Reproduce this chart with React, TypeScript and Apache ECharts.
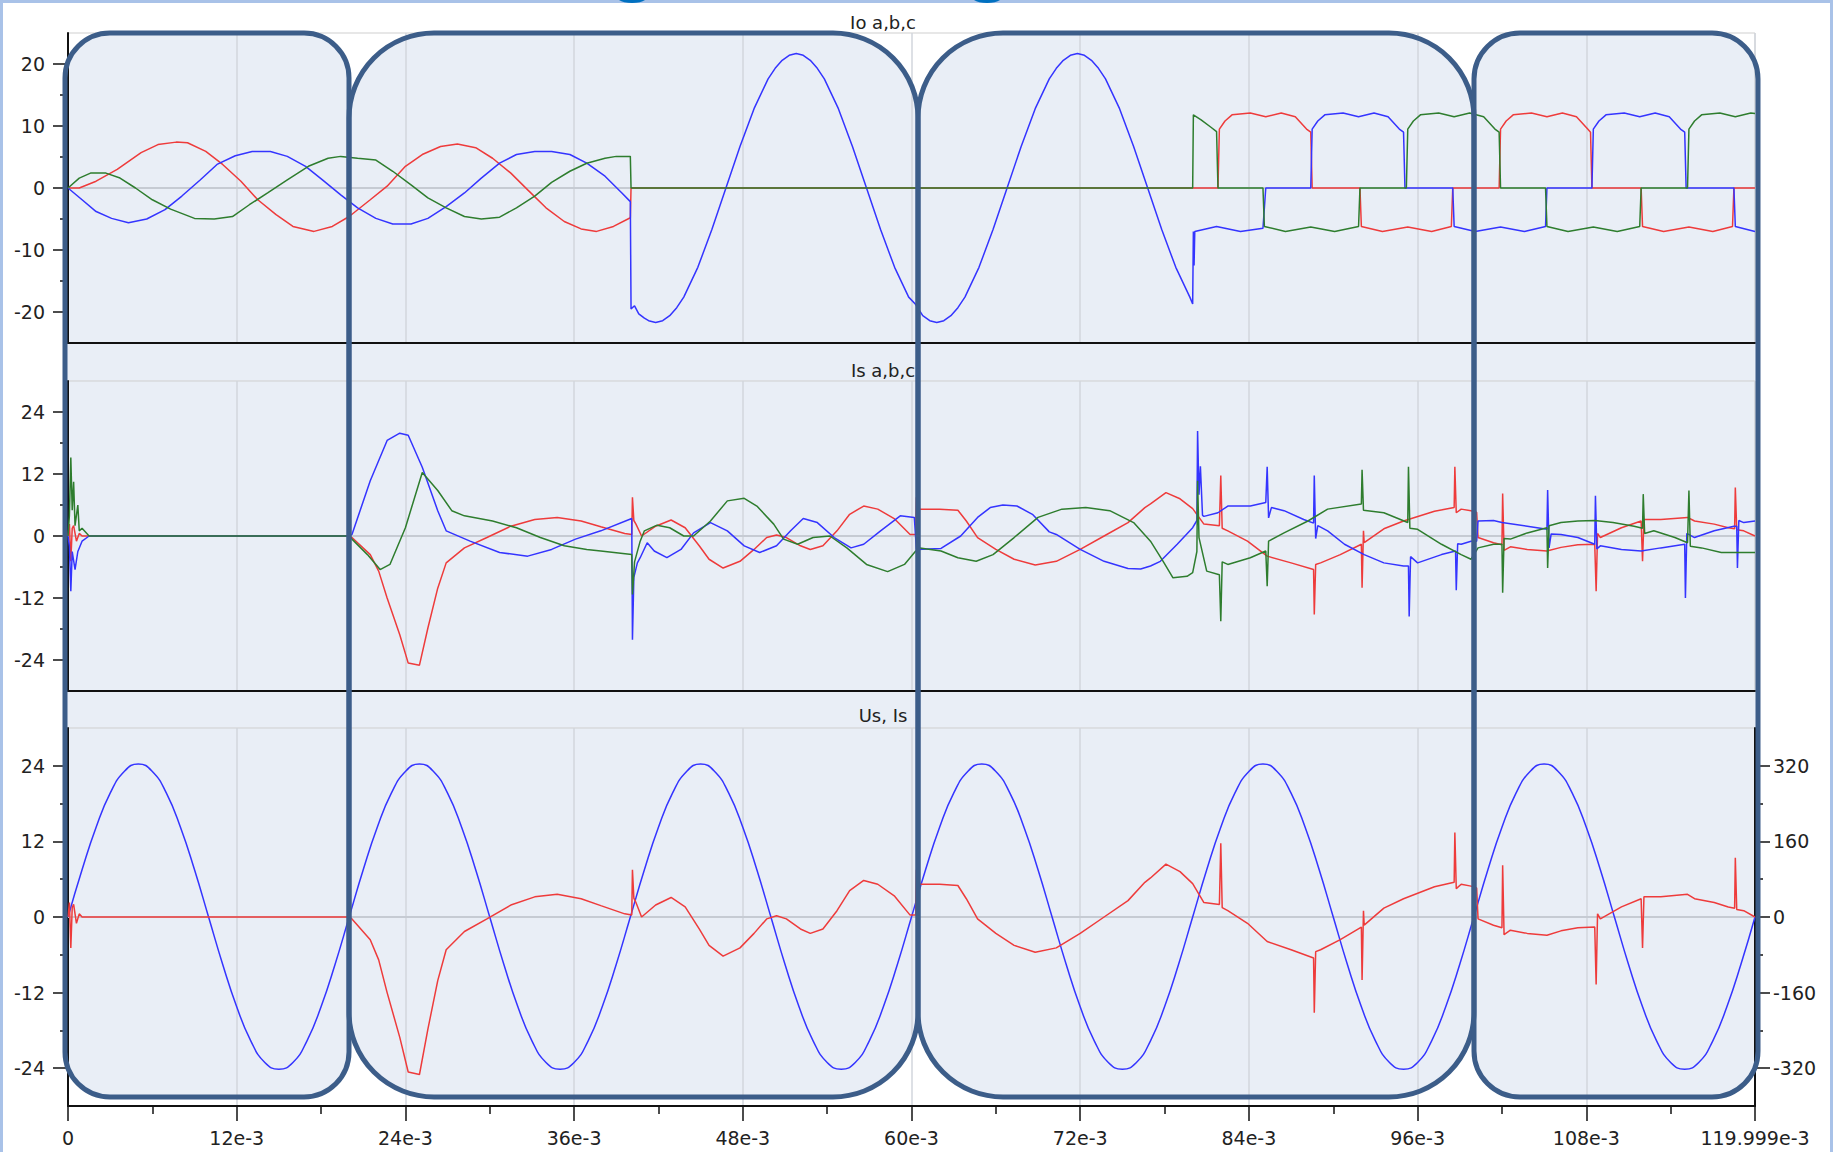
import React, { useEffect, useRef } from "react";
import * as echarts from "echarts";

// ---------- data (time in ms) ----------
const xTickLabels = ["0", "12e-3", "24e-3", "36e-3", "48e-3", "60e-3", "72e-3", "84e-3", "96e-3", "108e-3", "119.999e-3"];
const ioTicks = [-20, -10, 0, 10, 20];
const ioMinor = [-15, -5, 5, 15];
const isTicks = [-24, -12, 0, 12, 24];
const isMinor = [-18, -6, 6, 18];
const usTicks = [-320, -160, 0, 160, 320];
const usMinor = [-240, -80, 80, 240];
const zeroRef = [[0, 0], [120, 0]];

// Io a (red)
const ioA = [[0,0],[0.8,0],[2.0,1.1],[3.5,3.0],[5.2,5.7],[6.4,7.0],[7.7,7.4],[8.5,7.3],[9.8,5.9],[11.0,3.8],[12.3,1.1],[13.5,-1.9],[14.8,-4.3],[16.0,-6.2],[17.5,-7.0],[18.8,-6.2],[20.0,-4.6],[21.5,-1.9],[22.7,0.3],[24.0,3.5],[25.2,5.4],[26.5,6.7],[27.7,7.1],[29.0,6.5],[30.2,4.8],[31.5,2.4],[32.7,-0.3],[34.0,-3.2],[35.3,-5.4],[36.5,-6.6],[37.6,-7.0],[38.8,-6.2],[40.0,-4.8],[40.05,0],[81.8,0],[81.9,9.5],[82.3,10.8],[82.8,11.8],[84.1,12.1],[85.2,11.5],[86.3,12.1],[87.3,11.5],[88.1,9.5],[88.4,9.0],[88.5,0],[91.9,0],[92.0,-6.2],[93.5,-7.0],[95.3,-6.3],[97.0,-7.0],[98.4,-6.2],[98.5,0],[101.8,0],[101.9,9.5],[102.3,10.8],[102.8,11.8],[104.1,12.1],[105.2,11.5],[106.3,12.1],[107.3,11.5],[108.1,9.5],[108.3,9.0],[108.4,0],[111.9,0],[112.0,-6.2],[113.5,-7.0],[115.3,-6.3],[117.0,-7.0],[118.4,-6.2],[118.5,0],[120,0]];
// Io b (blue)
const ioB = [[0,0],[1.0,-1.9],[2.0,-3.8],[3.1,-4.9],[4.3,-5.6],[5.6,-5.0],[6.9,-3.5],[8.1,-1.3],[9.4,1.3],[10.6,3.8],[11.9,5.2],[13.1,5.9],[14.4,5.9],[15.6,5.1],[16.9,3.5],[18.1,1.3],[19.4,-1.1],[20.6,-3.2],[21.9,-4.9],[23.1,-5.8],[24.4,-5.8],[25.6,-4.9],[26.9,-3.0],[28.2,-0.8],[29.4,1.6],[30.7,4.0],[31.9,5.4],[33.2,5.9],[34.4,5.9],[35.7,5.4],[36.9,4.0],[38.2,1.9],[39.4,-0.8],[40.0,-2.2],[40.05,-19.5],[40.3,-19.0],[40.6,-20.3],[41.0,-21.0],[41.3,-21.4],[41.8,-21.7],[42.3,-21.4],[42.8,-20.6],[43.3,-19.3],[43.8,-17.6],[44.8,-12.8],[45.8,-6.7],[46.8,0],[47.8,6.7],[48.8,12.8],[49.8,17.6],[50.3,19.3],[50.8,20.6],[51.3,21.4],[51.8,21.7],[52.3,21.4],[52.8,20.6],[53.3,19.3],[53.8,17.6],[54.8,12.8],[55.8,6.7],[56.8,0],[57.8,-6.7],[58.8,-12.8],[59.8,-17.6],[60.3,-18.8],[60.8,-20.6],[61.3,-21.4],[61.8,-21.7],[62.3,-21.4],[62.8,-20.6],[63.3,-19.3],[63.8,-17.6],[64.8,-12.8],[65.8,-6.7],[66.8,0],[67.8,6.7],[68.8,12.8],[69.8,17.6],[70.3,19.3],[70.8,20.6],[71.3,21.4],[71.8,21.7],[72.3,21.4],[72.8,20.6],[73.3,19.3],[73.8,17.6],[74.8,12.8],[75.8,6.7],[76.8,0],[77.8,-6.7],[78.8,-12.8],[79.8,-17.6],[80.0,-18.7],[80.05,-7.0],[80.1,-12.5],[80.15,-7.0],[81.7,-6.2],[83.4,-7.0],[85.0,-6.5],[85.2,0],[88.4,0],[88.5,9.5],[88.9,10.8],[89.4,11.8],[90.7,12.1],[91.8,11.5],[92.9,12.1],[93.9,11.5],[94.7,9.5],[95.0,9.0],[95.1,0],[98.5,0],[98.6,-6.2],[100.1,-7.0],[101.9,-6.3],[103.6,-7.0],[105.1,-6.2],[105.2,0],[108.4,0],[108.5,9.5],[108.9,10.8],[109.4,11.8],[110.7,12.1],[111.8,11.5],[112.9,12.1],[113.9,11.5],[114.7,9.5],[115.0,9.0],[115.1,0],[118.5,0],[118.6,-6.2],[120,-7.0]];
// Io c (green)
const ioC = [[0,0],[0.8,1.6],[1.6,2.4],[2.7,2.4],[3.7,1.6],[4.8,0],[6.0,-1.9],[7.3,-3.4],[9.0,-4.9],[10.4,-5.0],[11.7,-4.6],[12.9,-2.7],[14.2,-0.8],[15.6,1.3],[17.1,3.5],[18.5,4.8],[19.4,5.1],[20.6,4.8],[21.9,4.5],[23.1,2.7],[24.4,0.5],[25.6,-1.6],[26.9,-3.2],[28.2,-4.6],[29.4,-5.0],[30.7,-4.7],[31.9,-3.2],[33.2,-1.3],[34.4,0.9],[35.7,2.7],[36.9,4.0],[38.2,4.8],[39.0,5.1],[40.0,5.1],[40.05,0],[80.0,0],[80.05,11.8],[80.6,11.0],[81.3,9.8],[81.7,9.1],[81.8,0],[85.0,0],[85.1,-6.2],[86.6,-7.0],[88.4,-6.3],[90.1,-7.0],[91.8,-6.2],[91.9,0],[95.2,0],[95.3,9.5],[95.7,10.8],[96.2,11.8],[97.5,12.1],[98.6,11.5],[99.7,12.1],[100.7,11.5],[101.5,9.5],[101.8,9.0],[101.9,0],[105.1,0],[105.2,-6.2],[106.7,-7.0],[108.5,-6.3],[110.2,-7.0],[111.8,-6.2],[111.9,0],[115.2,0],[115.3,9.5],[115.7,10.8],[116.2,11.8],[117.5,12.1],[118.6,11.5],[119.7,12.1],[120,12.0]];

// Is a (red) - also the Is trace of the bottom panel
const isA = [[0,0],[0.1,2.3],[0.2,-4.9],[0.3,1.5],[0.4,2.0],[0.6,-1.0],[0.8,0.5],[1.0,0],[20,0],[20.2,-0.3],[21.5,-3.6],[22.1,-6.8],[22.7,-12.0],[23.6,-19.1],[24.2,-24.6],[25.0,-25.0],[25.6,-17.8],[26.3,-10.1],[26.9,-5.2],[28.2,-2.3],[29.8,-0.3],[31.5,1.9],[33.2,3.2],[34.8,3.6],[36.5,2.9],[37.9,1.8],[39.6,0.5],[40.1,0.3],[40.15,7.5],[40.25,3.0],[40.4,2.3],[40.8,0],[41.8,1.9],[42.9,3.1],[43.9,1.6],[44.9,-1.9],[45.6,-4.5],[46.6,-6.2],[47.8,-4.9],[48.8,-2.6],[49.7,-0.3],[50.4,0.2],[51.1,-0.3],[52.1,-1.9],[52.8,-2.6],[53.7,-1.9],[54.7,1.0],[55.6,4.2],[56.6,5.8],[57.6,5.2],[58.8,3.3],[59.9,0.3],[60.3,0.3],[60.35,7.5],[60.5,5.5],[60.6,5.2],[62.0,5.2],[63.3,5.0],[63.9,2.9],[64.7,-0.3],[66.0,-2.6],[67.3,-4.5],[68.8,-5.6],[70.3,-4.9],[72.0,-2.6],[73.7,0],[75.4,2.6],[76.6,5.5],[77.0,6.2],[78.1,8.4],[79.1,7.2],[80.0,5.3],[80.8,2.3],[81.9,2.0],[82.0,11.7],[82.1,1.5],[82.5,1.0],[83.9,-1.0],[85.3,-3.9],[87.0,-5.2],[88.6,-6.5],[88.65,-15.2],[88.75,-5.5],[89.1,-5.2],[90.5,-3.6],[92.0,-1.6],[92.05,-10.0],[92.15,1.0],[92.2,-1.3],[93.6,1.4],[95.0,2.9],[97.2,4.8],[98.6,5.5],[98.65,13.4],[98.75,4.5],[99.1,5.2],[99.8,4.9],[100.2,4.6],[100.3,-0.3],[101.4,-1.3],[102.0,-1.7],[102.05,8.2],[102.15,-2.8],[102.6,-2.1],[103.8,-2.6],[105.2,-2.9],[106.2,-2.2],[107.4,-1.7],[108.6,-1.6],[108.7,-10.7],[108.8,0.5],[109.0,-0.3],[110.5,1.6],[111.9,2.9],[112.0,-4.9],[112.1,3.2],[113.3,3.2],[115.2,3.6],[115.7,2.9],[117.1,2.3],[118.1,1.6],[118.55,1.4],[118.6,9.4],[118.7,1.2],[119.2,1.0],[120,0]];
// Is b (blue)
const isB = [[0,0],[0.1,-2.0],[0.2,-10.7],[0.3,-3.0],[0.5,-6.5],[0.7,-3.0],[1.0,-1.0],[1.5,0],[20,0],[20.2,0.3],[21.5,10.7],[22.7,18.5],[23.6,19.9],[24.2,19.5],[25.2,13.3],[26.3,4.9],[26.9,1.0],[28.6,-1.0],[30.7,-3.2],[32.7,-3.9],[34.4,-2.6],[36.1,-0.6],[37.9,1.0],[40.1,3.4],[40.15,-20.1],[40.25,-8.0],[40.5,-5.2],[40.7,-4.2],[41.2,-1.3],[41.7,-2.9],[42.6,-4.2],[43.6,-2.6],[44.5,0.6],[45.7,2.6],[46.9,1.0],[48.1,-1.9],[49.2,-3.2],[50.4,-1.9],[51.4,1.0],[52.3,3.4],[53.3,2.6],[54.5,-0.3],[55.7,-2.3],[56.6,-1.6],[57.8,1.0],[59.2,3.9],[60.2,3.6],[60.35,-2.6],[62.1,-2.4],[63.5,0],[64.7,3.6],[65.6,5.5],[66.5,6.0],[67.5,5.8],[68.6,4.2],[69.8,0.8],[70.3,0.3],[72.0,-2.6],[73.7,-4.9],[75.4,-6.3],[76.3,-6.4],[77.0,-5.8],[77.7,-4.9],[78.9,-1.6],[80.0,1.6],[80.3,3.0],[80.35,20.3],[80.45,8.0],[80.55,13.5],[80.7,4.0],[80.8,3.8],[81.8,4.5],[82.5,5.8],[84.1,5.8],[85.2,6.5],[85.3,13.4],[85.4,3.5],[85.6,5.5],[86.5,4.9],[87.9,3.2],[88.6,2.5],[88.65,11.7],[88.75,-0.5],[88.9,2.0],[89.6,1.0],[90.8,-1.6],[92.2,-3.6],[93.6,-5.2],[95.0,-5.8],[95.35,-5.8],[95.4,-15.6],[95.5,-4.0],[96.0,-5.2],[97.7,-3.6],[98.7,-2.9],[98.75,-10.5],[98.85,-1.5],[99.1,-1.6],[99.8,-1.0],[100.2,-1.0],[100.3,2.9],[101.4,3.0],[102.0,2.6],[103.8,1.9],[105.2,1.3],[105.25,8.9],[105.35,-2.3],[105.5,0.4],[106.2,0.3],[107.4,-0.3],[108.6,-1.6],[108.65,7.8],[108.75,-2.5],[109.0,-1.9],[110.5,-2.6],[111.9,-2.9],[113.3,-2.3],[115.0,-1.6],[115.05,-12.0],[115.15,0.5],[115.7,-0.3],[117.1,1.0],[118.5,1.9],[118.7,1.9],[118.75,-6.2],[118.85,3.0],[119.2,2.6],[120,2.9]];
// Is c (green)
const isC = [[0,0],[0.1,4.0],[0.2,15.2],[0.3,5.0],[0.4,10.5],[0.5,2.0],[0.7,6.0],[0.8,1.0],[1.0,1.5],[1.5,0],[20,0],[20.2,-0.6],[21.3,-3.6],[22.2,-6.5],[22.9,-5.5],[24.0,1.6],[25.2,12.3],[26.3,8.8],[27.3,4.9],[28.2,3.9],[30.2,2.9],[31.9,1.6],[33.6,-0.3],[35.3,-1.9],[36.9,-2.6],[37.9,-2.9],[40.1,-3.6],[40.15,-11.3],[40.3,-5.0],[40.7,-1.0],[41.0,1.0],[41.9,2.1],[42.8,1.6],[43.8,0],[44.5,0],[45.7,2.9],[46.9,6.8],[48.1,7.3],[49.0,5.8],[50.2,2.3],[50.9,-0.6],[51.9,-1.6],[53.0,-0.3],[54.2,0],[55.4,-2.3],[56.8,-5.5],[58.3,-6.9],[59.5,-5.5],[60.3,-2.9],[60.6,-2.3],[62.1,-2.9],[63.3,-4.2],[64.6,-4.9],[65.8,-3.6],[67.3,-0.3],[69.0,3.6],[70.7,5.2],[72.4,5.5],[74.1,4.9],[75.8,2.6],[77.0,-1.0],[77.9,-4.9],[78.6,-8.1],[79.6,-7.8],[80.0,-7.1],[80.3,-3.0],[80.35,10.7],[80.45,-0.3],[81.0,-6.8],[81.9,-7.5],[82.0,-16.5],[82.1,-5.0],[82.5,-5.5],[84.1,-4.2],[85.2,-2.9],[85.3,-9.7],[85.4,-1.0],[86.5,0.6],[88.2,2.9],[89.6,5.2],[92.0,6.2],[92.05,12.8],[92.15,5.0],[93.6,4.5],[95.3,2.6],[95.35,13.4],[95.45,1.5],[96.0,1.3],[97.7,-1.6],[99.1,-3.6],[99.8,-4.5],[100.3,-2.3],[101.4,-1.6],[102.0,-1.6],[102.05,-11.0],[102.15,-0.5],[102.6,-0.6],[103.8,0.6],[105.2,1.6],[105.25,-6.2],[105.35,2.0],[106.2,2.6],[107.4,2.9],[108.6,3.0],[109.9,2.6],[111.4,1.9],[112.0,1.5],[112.05,8.1],[112.15,0.5],[112.8,1.0],[114.3,-0.3],[115.2,-1.3],[115.3,8.8],[115.4,-2.0],[116.2,-2.3],[117.6,-3.2],[120,-3.2]];

// Us (blue, right axis, volts) sampled every 1 ms from 0 to 120 ms
const usValues = [
  0,100,190,262,308,324,308,262,190,100,0,-100,-190,-262,-308,-322,-308,-262,-190,-100,
  0,100,190,262,308,324,308,262,190,100,0,-100,-190,-262,-308,-322,-308,-262,-190,-100,
  0,100,190,262,308,324,308,262,190,100,0,-100,-190,-262,-308,-322,-308,-262,-190,-100,
  0,100,190,262,308,324,308,262,190,100,0,-100,-190,-262,-308,-322,-308,-262,-190,-100,
  0,100,190,262,308,324,308,262,190,100,0,-100,-190,-262,-308,-322,-308,-262,-190,-100,
  0,100,190,262,308,324,308,262,190,100,0,-100,-190,-262,-308,-322,-308,-262,-190,-100,
  0,
];

const panelTitles = ["Io a,b,c", "Is a,b,c", "Us, Is"];

// ---------- styling ----------
const RED = "#EE3B3B";
const BLUE = "#3434FF";
const GREEN = "#2E7D2E";
const FONT = "DejaVu Sans";
const AXIS = "#111";
const LABEL = "#222";

function buildOption() {
  const grids = [
    { left: 68, right: 80, top: 33, height: 310 },
    { left: 68, right: 80, top: 381, height: 310 },
    { left: 68, right: 80, top: 728, height: 378 },
  ].map((g) => ({ ...g, show: true, borderColor: "#cfcfcf", borderWidth: 1, backgroundColor: "transparent" }));

  const xAxis = [0, 1, 2].map((i) => ({
    type: "value",
    gridIndex: i,
    min: 0,
    max: 120,
    interval: 12,
    z: 1,
    axisLine: { show: true, onZero: false, lineStyle: { color: AXIS, width: 2 } },
    axisTick: i === 2 ? { show: true, length: 15, lineStyle: { color: AXIS, width: 1.5 } } : { show: false },
    minorTick: i === 2 ? { show: true, splitNumber: 2, length: 8, lineStyle: { color: AXIS, width: 1.5 } } : { show: false },
    axisLabel:
      i === 2
        ? {
            show: true,
            margin: 22,
            fontSize: 19,
            fontFamily: FONT,
            color: LABEL,
            formatter: (v: number) => xTickLabels[Math.round(v / 12)] ?? "",
          }
        : { show: false },
    splitLine: { show: true, lineStyle: { color: "#d2d6dd", width: 1.5 } },
  }));

  const mainY = (gridIndex: number, min: number, max: number, ticks: number[], position: string, margin: number) => ({
    type: "value",
    gridIndex,
    min,
    max,
    position,
    z: 1,
    axisLine: { show: true, onZero: false, lineStyle: { color: AXIS, width: 2 } },
    axisTick: { show: true, length: 15, customValues: ticks, lineStyle: { color: AXIS, width: 1.5 } },
    axisLabel: { show: true, customValues: ticks, margin, fontSize: 19, fontFamily: FONT, color: LABEL },
    splitLine: { show: false },
  });
  const minorY = (gridIndex: number, min: number, max: number, ticks: number[], position: string) => ({
    type: "value",
    gridIndex,
    min,
    max,
    position,
    z: 1,
    axisLine: { show: false, onZero: false },
    axisTick: { show: true, length: 8, customValues: ticks, lineStyle: { color: AXIS, width: 1.5 } },
    axisLabel: { show: false },
    splitLine: { show: false },
  });

  const yAxis = [
    mainY(0, -25, 25, ioTicks, "left", 23),
    minorY(0, -25, 25, ioMinor, "left"),
    mainY(1, -30, 30, isTicks, "left", 23),
    minorY(1, -30, 30, isMinor, "left"),
    mainY(2, -30, 30, isTicks, "left", 23),
    minorY(2, -30, 30, isMinor, "left"),
    mainY(2, -400, 400, usTicks, "right", 18),
    minorY(2, -400, 400, usMinor, "right"),
  ];

  const line = (name: string, data: any[], xi: number, yi: number, color: string, extra: any = {}) => ({
    type: "line",
    name,
    data,
    xAxisIndex: xi,
    yAxisIndex: yi,
    showSymbol: false,
    symbol: "none",
    lineStyle: { color, width: 1.5 },
    itemStyle: { color },
    z: 3,
    silent: true,
    ...extra,
  });
  const zero = (xi: number, yi: number) =>
    line("zero", zeroRef, xi, yi, "#c6cbd3", { z: 2, lineStyle: { color: "#c6cbd3", width: 2 } });

  const usData = usValues.map((v, i) => [i, v]);

  const series = [
    zero(0, 0),
    zero(1, 2),
    zero(2, 4),
    line("Io a", ioA, 0, 0, RED),
    line("Io b", ioB, 0, 0, BLUE),
    line("Io c", ioC, 0, 0, GREEN),
    line("Is a", isA, 1, 2, RED),
    line("Is b", isB, 1, 2, BLUE),
    line("Is c", isC, 1, 2, GREEN),
    line("Us", usData, 2, 6, BLUE, { smooth: true }),
    line("Is", isA, 2, 4, RED),
  ];

  // rounded frames: [x, y, width, height, radius]
  const frames = [
    [65, 33, 284, 1064, 45],
    [349, 33, 569, 1064, 85],
    [918, 33, 556, 1064, 85],
    [1474, 33, 284, 1064, 46],
  ];
  const fills = frames.map(([x, y, w, h, r]) => ({
    type: "rect",
    z: -1,
    silent: true,
    shape: { x, y, width: w, height: h, r },
    style: { fill: "#E9EEF6", stroke: "none" },
  }));
  const borders = frames.map(([x, y, w, h, r]) => ({
    type: "rect",
    z: 100,
    silent: true,
    shape: { x, y, width: w, height: h, r },
    style: { fill: "none", stroke: "#3C5D89", lineWidth: 5 },
  }));
  const titleY = [22, 370, 715];
  const titles = panelTitles.map((t, i) => ({
    type: "text",
    z: 50,
    silent: true,
    x: 883,
    y: titleY[i],
    style: {
      text: t,
      font: `18px "${FONT}"`,
      fill: "#222",
      align: "center",
      verticalAlign: "middle",
      textAlign: "center",
      textVerticalAlign: "middle",
    },
  }));
  const decor = [
    {
      type: "rect",
      z: 150,
      silent: true,
      shape: { x: 1.5, y: 1.5, width: 1830, height: 1170 },
      style: { fill: "none", stroke: "#A9C2E8", lineWidth: 3 },
    },
    { type: "ellipse", z: 160, silent: true, shape: { cx: 632, cy: -3, rx: 15, ry: 6 }, style: { fill: "#0070C0" } },
    { type: "ellipse", z: 160, silent: true, shape: { cx: 987, cy: -3, rx: 15, ry: 6 }, style: { fill: "#0070C0" } },
  ];

  return {
    animation: false,
    backgroundColor: "#ffffff",
    grid: grids,
    xAxis,
    yAxis,
    series,
    graphic: { elements: [...fills, ...titles, ...borders, ...decor] },
  };
}

export default function App() {
  const ref = useRef<HTMLDivElement>(null);
  useEffect(() => {
    if (!ref.current) return;
    const chart = echarts.init(ref.current, null, { renderer: "svg" });
    chart.setOption(buildOption() as any);
    return () => chart.dispose();
  }, []);
  return (
    <div
      ref={ref}
      style={{ position: "absolute", left: 0, top: 0, width: 1835, height: 1152, background: "#fff" }}
    />
  );
}
